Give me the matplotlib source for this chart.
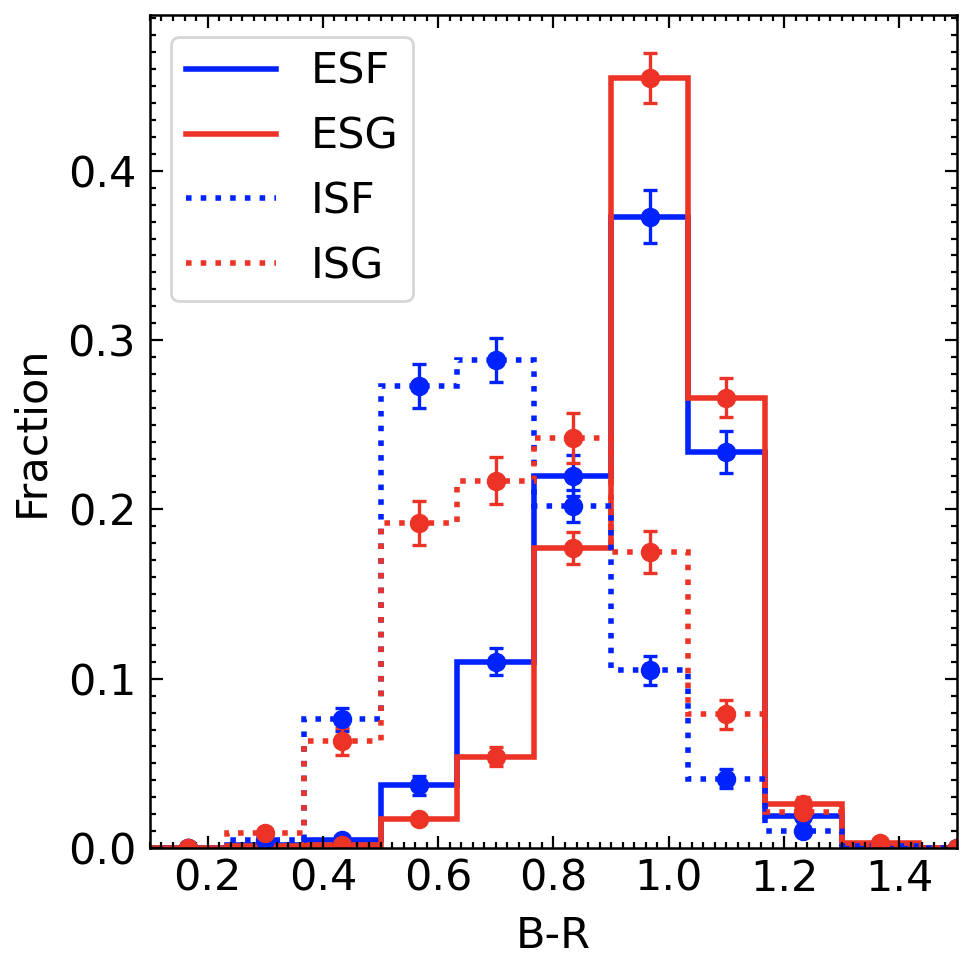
import numpy as np
import matplotlib
matplotlib.use("Agg")
from matplotlib import pyplot as plt
from matplotlib.ticker import MultipleLocator

# bin edges / centres of the B-R histogram
edges = 0.1 + np.arange(12) * (2.0 / 15.0)
centres = 0.5 * (edges[:-1] + edges[1:])

# fractions
esf = [0.0, 0.002, 0.005, 0.037, 0.110, 0.220, 0.373, 0.234, 0.019, 0.002, 0.0]
esg = [0.0, 0.001, 0.002, 0.017, 0.054, 0.177, 0.455, 0.266, 0.026, 0.003, 0.0]
isf = [0.0, 0.005, 0.076, 0.273, 0.288, 0.202, 0.105, 0.041, 0.010, 0.001, 0.0]
isg = [0.0, 0.009, 0.063, 0.192, 0.217, 0.242, 0.175, 0.079, 0.021, 0.002, 0.0]

esf_err = [0.0, 0.001, 0.002, 0.0056, 0.008, 0.012, 0.0156, 0.0125, 0.003, 0.001, 0.0]
esg_err = [0.0, 0.001, 0.001, 0.003, 0.0054, 0.0094, 0.0148, 0.0115, 0.004, 0.001, 0.0]
isf_err = [0.0, 0.002, 0.007, 0.013, 0.013, 0.0094, 0.0086, 0.0055, 0.003, 0.001, 0.0]
isg_err = [0.0, 0.003, 0.008, 0.013, 0.0138, 0.0148, 0.0123, 0.0087, 0.004, 0.001, 0.0]

labels = ["ESF", "ESG", "ISF", "ISG"]

blue = "#0022ff"
red = "#ec3326"

fig = plt.figure(figsize=(9.7, 9.64), dpi=100)
ax = fig.add_axes([0.1546, 0.1203, 0.832, 0.8641])

series = [(esf, esf_err, blue, "-"), (esg, esg_err, red, "-"),
          (isf, isf_err, blue, ":"), (isg, isg_err, red, ":")]

for (vals, errs, col, ls), lab in zip(series, labels):
    ax.stairs(vals, edges, color=col, linestyle=ls, linewidth=4, label=lab)
    ax.errorbar(centres, vals, yerr=errs, fmt="o", color=col, markersize=13,
                elinewidth=2.4, capsize=5, capthick=2.4)

ax.set_xlim(0.1, 1.5)
ax.set_ylim(0, 0.492)
ax.xaxis.set_major_locator(MultipleLocator(0.2))
ax.xaxis.set_minor_locator(MultipleLocator(0.02))
ax.yaxis.set_major_locator(MultipleLocator(0.1))
ax.yaxis.set_minor_locator(MultipleLocator(0.01))
ax.tick_params(which="both", direction="in", top=True, right=True, labelsize=31, width=1.6)
ax.tick_params(which="major", length=9)
ax.tick_params(which="minor", length=4.5)
ax.tick_params(axis="x", which="major", pad=7)
ax.tick_params(axis="y", which="major", pad=10)
for sp in ax.spines.values():
    sp.set_linewidth(1.8)

ax.set_xlabel("B-R", fontsize=31, labelpad=11)
ax.set_ylabel("Fraction", fontsize=31, labelpad=11)

leg = ax.legend(loc="upper left", fontsize=31, handlelength=2.1, handletextpad=0.8,
                labelspacing=0.53, borderpad=0.33, framealpha=0.8, edgecolor="#cccccc")
leg.get_frame().set_linewidth(2)

fig.savefig("out.png", dpi=100)
